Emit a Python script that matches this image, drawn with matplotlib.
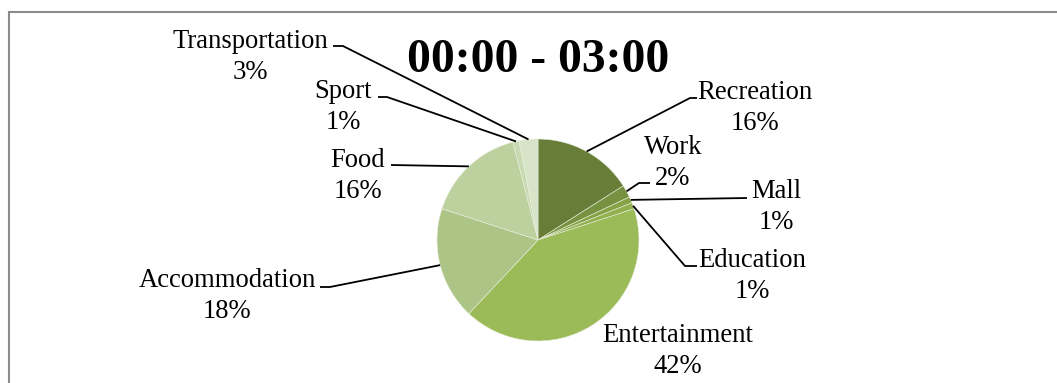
import numpy as np
import matplotlib
matplotlib.use("Agg")
import matplotlib.pyplot as plt

W, H = 1057, 383

categories = ["Recreation", "Work", "Mall", "Education", "Entertainment",
              "Accommodation", "Food", "Sport", "Transportation"]
shares = [16, 2, 1, 1, 42, 18, 16, 1, 3]
colors = ["#687E38", "#76913F", "#85A247", "#91B04F", "#9BBB59",
          "#ACC485", "#BDD19F", "#C9DAB3", "#D8E4C7"]
title = "00:00 - 03:00"

plt.rcParams['font.family'] = ['Liberation Serif', 'DejaVu Serif']

fig = plt.figure(figsize=(W / 100, H / 100), dpi=100)
ax = fig.add_axes([0, 0, 1, 1])


def flip(y):
    # work in image-style coordinates (y grows downward)
    return H - y


cx, cy, r = 538, 240, 101
wedges, _ = ax.pie(shares, colors=colors, startangle=90, counterclock=False,
                   center=(cx, flip(cy)), radius=r, frame=True,
                   wedgeprops=dict(edgecolor='#E8EEDC', linewidth=0.4))
ax.set_xlim(0, W)
ax.set_ylim(0, H)
ax.set_aspect('equal')
ax.axis('off')

# label block centres and leader-line bend points
label_pos = {
    "Recreation": (755, 108), "Work": (673, 163), "Mall": (776, 207),
    "Education": (752, 276), "Entertainment": (678, 351),
    "Accommodation": (227, 296), "Food": (358, 176),
    "Sport": (343, 107), "Transportation": (250, 57),
}
leaders = {
    "Recreation": [(690, 98), (697, 98)],
    "Work": [(639, 183), (650, 183)],
    "Mall": [(747, 198)],
    "Education": [(685, 266), (697, 266)],
    "Accommodation": [(330, 287), (320, 287)],
    "Food": [(391, 165)],
    "Sport": [(387, 97), (378, 97)],
    "Transportation": [(343, 46), (333, 46)],
}

cum = np.cumsum([0] + shares)
total = float(sum(shares))
for i, name in enumerate(categories):
    mid = (cum[i] + cum[i + 1]) / 2 / total * 2 * np.pi
    ex, ey = cx + r * np.sin(mid), cy - r * np.cos(mid)
    if name in leaders:
        pts = [(ex, ey)] + leaders[name]
        ax.plot([p[0] for p in pts], [flip(p[1]) for p in pts],
                color='black', lw=1.3, solid_capstyle='butt', zorder=3)
    lx, ly = label_pos[name]
    ax.text(lx, flip(ly), f"{name}\n{shares[i]}%", ha='center', va='center',
            multialignment='center', fontsize=19.2, linespacing=1.3)

ax.text(cx, flip(60), title, ha='center', va='center',
        fontsize=34.3, fontweight='bold')

# chart frame (only top and left edges fall inside the image)
ax.plot([9, 9, W], [0, flip(11.5), flip(11.5)], color='#8C8C8C', lw=1.5,
        solid_joinstyle='miter')

fig.savefig("out.png", dpi=100)
